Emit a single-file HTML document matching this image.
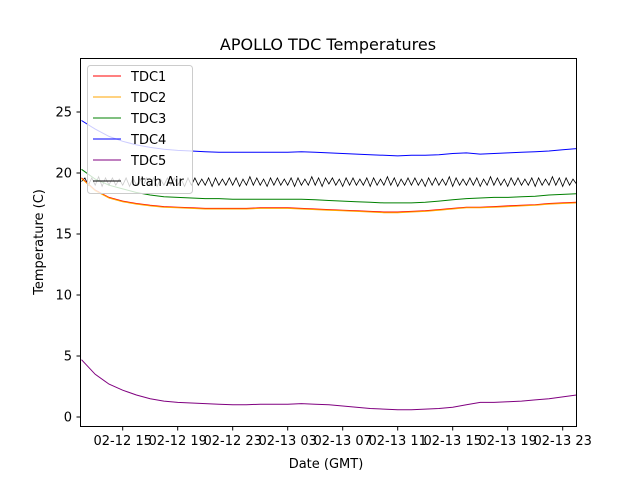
<!DOCTYPE html>
<html><head><meta charset="utf-8"><style>
body{margin:0;background:#fff;font-family:"Liberation Sans","DejaVu Sans",sans-serif}
</style></head><body>
<svg id="c" width="640" height="480" xmlns="http://www.w3.org/2000/svg" font-family="DejaVu Sans, Liberation Sans, sans-serif">
<rect width="640" height="480" fill="#fff"/>
<text x="328" y="50" text-anchor="middle" font-size="16">APOLLO TDC Temperatures</text>
<g id="plot"></g>
<rect x="80.5" y="58.5" width="496" height="368" fill="none" stroke="#000" stroke-width="1"/>
<g id="xt"></g>
<g id="yt"></g>
<text x="326" y="468" text-anchor="middle" font-size="13">Date (GMT)</text>
<text transform="translate(43,242) rotate(-90)" text-anchor="middle" font-size="13">Temperature (C)</text>
<g id="leg"></g>
</svg>
<script>
const hours=[12,13,14,15,16,17,18,19,20,21,22,23,24,25,26,27,28,29,30,31,32,33,34,35,36,37,38,39,40,41,42,43,44,45,46,47,48];
const tdc4=[24.3,23.6,23.0,22.6,22.3,22.1,21.95,21.85,21.8,21.75,21.7,21.7,21.7,21.7,21.7,21.7,21.75,21.7,21.65,21.6,21.55,21.5,21.45,21.4,21.45,21.45,21.5,21.6,21.65,21.55,21.6,21.65,21.7,21.75,21.8,21.9,22.0];
const tdc3=[20.3,19.5,19.0,18.7,18.4,18.2,18.05,18.0,17.95,17.9,17.9,17.85,17.85,17.85,17.85,17.85,17.85,17.8,17.75,17.7,17.65,17.6,17.55,17.55,17.55,17.6,17.7,17.8,17.9,17.95,18.0,18.0,18.05,18.1,18.2,18.25,18.3];
const tdc1=[19.6,18.6,18.0,17.7,17.5,17.35,17.25,17.2,17.15,17.1,17.1,17.1,17.1,17.15,17.15,17.15,17.1,17.05,17.0,16.95,16.9,16.85,16.8,16.8,16.85,16.9,17.0,17.1,17.2,17.2,17.25,17.3,17.35,17.4,17.5,17.55,17.6];
const tdc2=[19.55,18.55,17.95,17.65,17.45,17.3,17.2,17.15,17.1,17.05,17.05,17.05,17.05,17.1,17.1,17.1,17.05,17.0,16.95,16.9,16.85,16.8,16.75,16.75,16.8,16.85,16.95,17.05,17.15,17.15,17.2,17.25,17.3,17.35,17.45,17.5,17.55];
const tdc5=[4.7,3.5,2.7,2.2,1.8,1.5,1.3,1.2,1.15,1.1,1.05,1.0,1.0,1.05,1.05,1.05,1.1,1.05,1.0,0.9,0.8,0.7,0.65,0.6,0.6,0.65,0.7,0.8,1.0,1.2,1.2,1.25,1.3,1.4,1.5,1.65,1.8];
const air=[19.3,19.6,19.0,19.6,19.0,19.7,18.9,19.6,19.0,19.6,19.0,19.5,19.0,19.6,18.9,19.6,19.0,19.5,19.0,19.6,19.0,19.6,18.9,19.5,19.0,19.6,19.0,19.6,19.0,19.5,18.9,19.6,19.0,19.6,19.0,19.5,19.0,19.6,18.9,19.6,19.0,19.5,19.0,19.6,19.0,19.6,18.9,19.5,19.0,19.7,19.0,19.6,19.0,19.5,18.9,19.6,19.0,19.6,19.0,19.5,19.0,19.6,18.9,19.6,19.0,19.5,19.0,19.7,19.0,19.6,18.9,19.6,19.1,19.6,19.0,19.5,18.9,19.6,19.0,19.6,19.0,19.5,19.0,19.6,18.9,19.6,19.0,19.5,19.0,19.7,19.0,19.6,18.9,19.5,19.0,19.6,19.0,19.6,19.0,19.5,18.9,19.6,19.0,19.6,19.0,19.5,19.0,19.7,18.9,19.6,19.0,19.5,19.0,19.6,19.0,19.6,18.9,19.5,19.0,19.7,19.0,19.6,19.0,19.5,18.9,19.6,19.0,19.6,19.0,19.5,19.0,19.6,18.9,19.6,19.0,19.5,19.0,19.7,19.0,19.6,18.9,19.6,19.0,19.5,19.1];
const xTickHours=[15,19,23,27,31,35,39,43,47];
const xTickLabels=["02-12 15","02-12 19","02-12 23","02-13 03","02-13 07","02-13 11","02-13 15","02-13 19","02-13 23"];
const yTicks=[0,5,10,15,20,25];
const seriesNames=["TDC1","TDC2","TDC3","TDC4","TDC5","Utah Air"];
const seriesColors=["#ff0000","#ffa500","#008000","#0000ff","#800080","#000000"];

const NS="http://www.w3.org/2000/svg";
const X=h=>122.7+(h-15)*13.75;
const Y=v=>417-v*12.2;
function mk(t,a,p){const e=document.createElementNS(NS,t);for(const k in a)e.setAttribute(k,a[k]);p.appendChild(e);return e;}
const plot=document.getElementById('plot');
function line(vals,hs,color,name,w){
  const pts=vals.map((v,i)=>X(hs[i]).toFixed(1)+','+Y(v).toFixed(1)).join(' ');
  const e=mk('polyline',{points:pts,fill:'none',stroke:color,'stroke-width':w||1},plot);
  
  
}
const airHours=air.map((_,i)=>12+i*36/(air.length-1));
line(air,airHours,'#000','series-utah-air',0.8);
line(tdc5,hours,'#800080','series-tdc5');
line(tdc4,hours,'#0000ff','series-tdc4');
line(tdc3,hours,'#008000','series-tdc3');
line(tdc1,hours,'#ff0000','series-tdc1');
line(tdc2,hours,'#ffa500','series-tdc2');

const xt=document.getElementById('xt');
xTickHours.forEach((h,i)=>{
  const x=X(h);
  const t=mk('line',{x1:x,x2:x,y1:427,y2:430.5,stroke:'#000'},xt);
  
  
  const l=mk('text',{x:x,y:445,'text-anchor':'middle','font-size':13},xt);
  l.textContent=xTickLabels[i];
  
  
});
const yt=document.getElementById('yt');
yTicks.forEach(v=>{
  const y=Y(v);
  const t=mk('line',{x1:76.5,x2:80.5,y1:y,y2:y,stroke:'#000'},yt);
  
  
  const l=mk('text',{x:72,y:y+4.5,'text-anchor':'end','font-size':13},yt);
  l.textContent=v;
  
  
});
const leg=document.getElementById('leg');
const box=mk('rect',{x:87.5,y:65.5,width:105,height:128,rx:3,fill:'#fff','fill-opacity':0.8,stroke:'#ccc'},leg);


seriesNames.forEach((n,i)=>{
  const y=76+i*21;
  const ln=mk('line',{x1:93,x2:121,y1:y,y2:y,stroke:seriesColors[i],'stroke-width':1},leg);
  
  
  const tx=mk('text',{x:131,y:y+5,'font-size':13},leg);
  tx.textContent=n;
  
  
});
</script>
</body></html>
